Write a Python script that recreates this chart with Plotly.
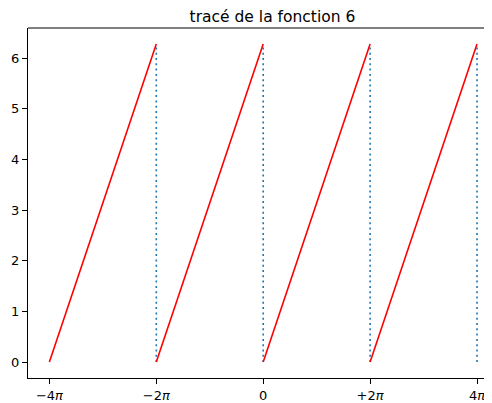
import numpy as np
import plotly.graph_objects as go

PI = np.pi
# sawtooth segments (start, end) in units of x, value goes from 0 to 2π on each
seg_start = [-4 * PI, -2 * PI, 0.0, 2 * PI]
seg_end = [-2 * PI, 0.0, 2 * PI, 4 * PI]
seg_y0 = [0.0, 0.0, 0.0, 0.0]
seg_y1 = [2 * PI, 2 * PI, 2 * PI, 2 * PI]

# dotted vertical jumps
jump_x = [-2 * PI, 0.0, 2 * PI, 4 * PI]
jump_ybot = [0.0, 0.0, 0.0, 0.0]
jump_ytop = [2 * PI, 2 * PI, 2 * PI, 2 * PI]

tick_vals = [-4 * PI, -2 * PI, 0.0, 2 * PI, 4 * PI]
tick_text = ["\u22124<i>\u03c0</i>", "\u22122<i>\u03c0</i>", "0", "+2<i>\u03c0</i>", "4<i>\u03c0</i>"]
ytick_vals = [0, 1, 2, 3, 4, 5, 6]

fig = go.Figure()

for xb, yb, yt in zip(jump_x, jump_ybot, jump_ytop):
    fig.add_trace(go.Scatter(x=[xb, xb], y=[yb, yt], mode="lines",
                             line=dict(color="#1f77b4", width=1.6, dash="2px,3.3px"),
                             showlegend=False, hoverinfo="skip"))

for xs, xe, y0, y1 in zip(seg_start, seg_end, seg_y0, seg_y1):
    fig.add_trace(go.Scatter(x=[xs, xe], y=[y0, y1], mode="lines",
                             line=dict(color="red", width=1.6),
                             showlegend=False, hoverinfo="skip"))

x_lo = -4 * PI - 0.05 * 8 * PI
x_hi = x_lo + (492 - 28) / 470.4 * (8 * PI * 1.1)

# page has an 8px body margin: compensate
fig.update_layout(
    width=484, height=395,
    margin=dict(l=20, r=0, t=20, b=25, pad=0),
    paper_bgcolor="white", plot_bgcolor="white",
    font=dict(family="DejaVu Sans", size=13, color="black"),
    title=dict(text="tracé de la fonction 6", x=255 / 484, xanchor="center",
               xref="paper", y=1 - 3 / 395, yref="container", yanchor="top",
               font=dict(size=15.5, family="DejaVu Sans", color="black")),
    xaxis=dict(range=[x_lo, x_hi], tickvals=tick_vals, ticktext=tick_text,
               showgrid=False, zeroline=False, showline=True, linecolor="black",
               linewidth=1, ticks="outside", ticklen=5, tickwidth=1, tickcolor="black",
               automargin=False, tickfont=dict(size=13)),
    yaxis=dict(range=[-0.05 * 2 * PI, 2 * PI * 1.05], tickvals=ytick_vals,
               showgrid=False, zeroline=False, showline=True, linecolor="black",
               linewidth=1, ticks="outside", ticklen=5, tickwidth=1, tickcolor="black",
               automargin=False, tickfont=dict(size=13)),
    shapes=[dict(type="line", xref="paper", yref="paper", x0=0, x1=1, y0=1, y1=1,
                 line=dict(color="black", width=1))],
)

fig.write_html("out.html")
